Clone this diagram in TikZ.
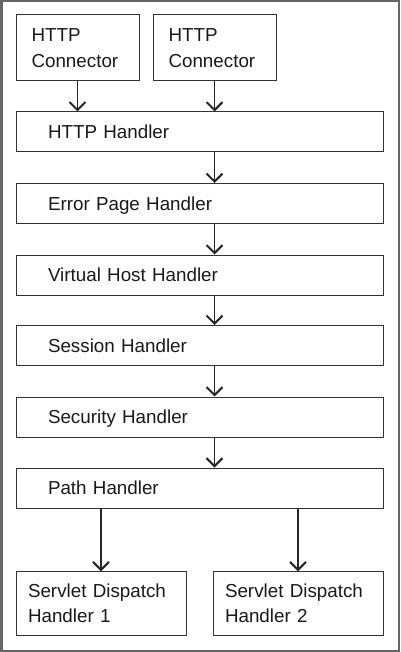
\documentclass[tikz,border=0pt]{standalone}
\usepackage{fontspec}
\setmainfont{Liberation Sans}
\usetikzlibrary{arrows.meta}
\begin{document}
\begin{tikzpicture}[x=1pt,y=-1pt,
  every node/.style={font=\fontsize{18.8}{25.5}\selectfont, text=black!90},
  box/.style={draw=black!80, line width=1pt, rectangle, align=left, inner ysep=0pt},
  wide/.style={box, text depth=0pt, text width=303pt, inner xsep=32pt, minimum height=40pt},
  conn/.style={box, text width=92pt, inner xsep=15.5pt, minimum height=66pt},
  serv/.style={box, text width=146pt, inner xsep=12pt, minimum height=63.5pt},
  arr/.style={draw=black!85, line width=1.1pt, -{Straight Barb[length=8pt,width=16pt,line width=2pt]}}
]
\useasboundingbox (0,0) rectangle (400,652);
\draw[black!60, line width=2.5pt] (1.25,1.25) rectangle (398.75,650.75);

\node[conn] (c1) at (77.5,48) {HTTP\\Connector};
\node[conn] (c2) at (214.5,48) {HTTP\\Connector};
\node[wide] (hh) at (199.5,132) {HTTP Handler};
\node[wide] (ep) at (199.5,203.5) {Error Page Handler};
\node[wide] (vh) at (199.5,275) {Virtual Host Handler};
\node[wide] (sh) at (199.5,345.5) {Session Handler};
\node[wide] (sc) at (199.5,417) {Security Handler};
\node[wide] (ph) at (199.5,488) {Path Handler};
\node[serv] (s1) at (101,603.5) {Servlet Dispatch\\Handler 1};
\node[serv] (s2) at (298,603.5) {Servlet Dispatch\\Handler 2};

\draw[arr] (c1.south) -- (c1.south |- hh.north);
\draw[arr] (c2.south) -- (c2.south |- hh.north);
\draw[arr] (hh.south -| c2) -- (ep.north -| c2);
\draw[arr] (ep.south -| c2) -- (vh.north -| c2);
\draw[arr] (vh.south -| c2) -- (sh.north -| c2);
\draw[arr] (sh.south -| c2) -- (sc.north -| c2);
\draw[arr] (sc.south -| c2) -- (ph.north -| c2);
\draw[arr] (ph.south -| s1) -- (s1.north);
\draw[arr] (ph.south -| s2) -- (s2.north);
\end{tikzpicture}
\end{document}
